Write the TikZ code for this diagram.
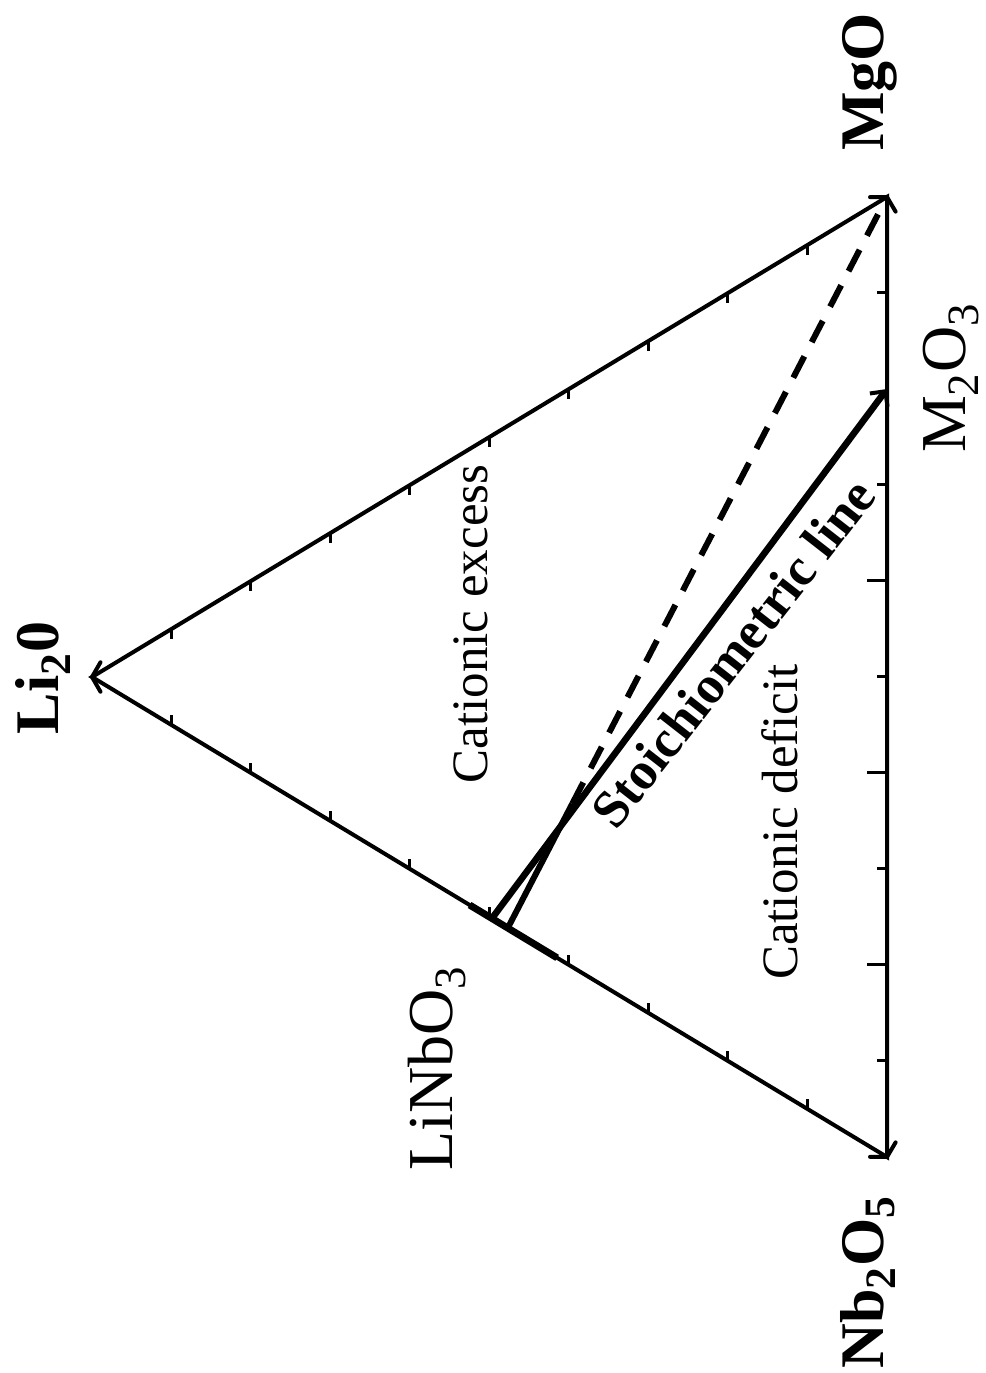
\documentclass[tikz,border=0pt]{standalone}
\usepackage{fontspec}
\setmainfont{Liberation Serif}
\usetikzlibrary{arrows.meta,calc}

\begin{document}
\begin{tikzpicture}[x=0.5pt,y=0.5pt,
  edge/.style={line width=2pt},
  tick/.style={line width=1.5pt},
  barb/.style={line width=2pt, line cap=round, line join=miter},
  stoich/.style={line width=3.3pt, -{Straight Barb[length=5.5pt,width=11pt,line width=2pt]}},
  dashline/.style={line width=3pt, dash pattern=on 12pt off 8pt},
  vlabel/.style={font=\bfseries\fontsize{31}{36}\selectfont, rotate=90, inner sep=0pt},
  nlabel/.style={font=\fontsize{32}{36}\selectfont, rotate=90, inner sep=0pt},
  region/.style={font=\fontsize{25.5}{30}\selectfont, rotate=90, inner sep=0pt}]

  % ====== 1) 画布大小 ======
  \useasboundingbox (0,0) rectangle (986,1373);

  % ====== 2) 三角形顶点与特殊点 ======
  \coordinate (Li) at (92,696);              % Li2O
  \coordinate (Mg) at (887,1176);            % MgO
  \coordinate (Nb) at (887,216);             % Nb2O5
  \coordinate (M2) at ($(Mg)!0.2!(Nb)$);     % M2O3
  \coordinate (LN) at ($(Li)!0.503!(Nb)$);   % LiNbO3
  \coordinate (CN) at ($(Li)!0.523!(Nb)$);   % 虚线的端点
  \coordinate (CS) at ($(CN)!0.17!(Mg)$);    % 虚线开始处

  % ====== 3) 刻度 ======
  \foreach \k in {1,...,9} {
    \draw[tick] ($(Li)!\k/10!(Mg)$) -- ++(0,-10);
    \draw[tick] ($(Li)!\k/10!(Nb)$) -- ++(0,10);
  }
  \foreach \k/\len in {1/10,3/10,4/20,5/10,6/20,7/10,8/20,9/10}
    \draw[tick] ($(Mg)!\k/10!(Nb)$) -- ++(-\len,0);

  % ====== 4) 三条边 ======
  \draw[edge] (Li) -- (Mg) -- (Nb) -- cycle;

  % ====== 5) 顶点处的箭头 ======
  \draw[barb] ($(Li)+(60:17)$) -- (Li) -- ($(Li)+(-60:17)$);
  \draw[barb] ($(Mg)+(180.5:17)$) -- (Mg) -- ($(Mg)+(300.5:17)$);
  \draw[barb] ($(Nb)+(179.5:17)$) -- (Nb) -- ($(Nb)+(59.5:17)$);

  % ====== 6) LiNbO3 固溶区 ======
  \draw[line width=3.5pt] ($(Li)!0.475!(Nb)$) -- ($(Li)!0.585!(Nb)$);

  % ====== 7) 化学计量线与虚线 ======
  \draw[stoich] (LN) -- (M2);
  \draw[line width=3pt] (CN) -- (CS);
  \draw[dashline] (CS) -- (Mg);

  % ====== 8) 文字 ======
  \node[vlabel] (liO) at (43,695) {Li\textsubscript{2}0};
  \node[vlabel] (mgO) at (870,1291) {MgO};
  \node[vlabel] (nbO) at (868,91) {Nb\textsubscript{2}O\textsubscript{5}};
  \node[nlabel] (m2o) at (951,995) {M\textsubscript{2}O\textsubscript{3}};
  \node[nlabel] (lno) at (437,305) {LiNbO\textsubscript{3}};
  \node[region] (exc) at (471,749) {Cationic excess};
  \node[region] (dfc) at (780,551) {Cationic deficit};
  \node[font=\bfseries\fontsize{26.5}{30}\selectfont, rotate=52, inner sep=0pt]
    (stl) at (733,720) {Stoichiometric line};

\end{tikzpicture}
\end{document}
